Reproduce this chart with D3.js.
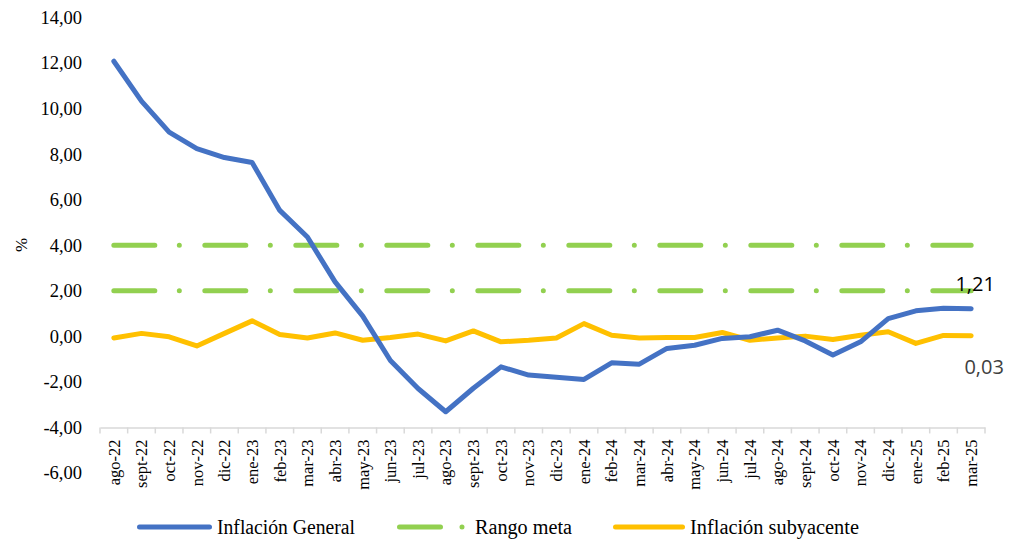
<!DOCTYPE html>
<html><head><meta charset="utf-8">
<script src="https://cdn.jsdelivr.net/npm/d3@7"></script>
<style>body{margin:0;background:#fff}svg{display:block}</style>
</head><body>
<svg id="c" width="1011" height="540"></svg>
<script>
const categories = ["ago-22","sept-22","oct-22","nov-22","dic-22","ene-23","feb-23","mar-23","abr-23","may-23","jun-23","jul-23","ago-23","sept-23","oct-23","nov-23","dic-23","ene-24","feb-24","mar-24","abr-24","may-24","jun-24","jul-24","ago-24","sept-24","oct-24","nov-24","dic-24","ene-25","feb-25","mar-25"];
const inflacionGeneral = [12.08,10.33,8.97,8.24,7.85,7.63,5.53,4.36,2.39,0.89,-1.06,-2.29,-3.31,-2.28,-1.34,-1.70,-1.80,-1.89,-1.16,-1.22,-0.53,-0.39,-0.09,-0.02,0.27,-0.20,-0.82,-0.24,0.78,1.12,1.23,1.21];
const inflacionSubyacente = [-0.07,0.13,-0.02,-0.42,0.13,0.68,0.08,-0.07,0.15,-0.17,-0.05,0.10,-0.20,0.24,-0.24,-0.17,-0.07,0.56,0.05,-0.07,-0.05,-0.05,0.17,-0.17,-0.07,0.01,-0.14,0.05,0.20,-0.31,0.04,0.03];
const rangoMetaSup = categories.map(() => 4);
const rangoMetaInf = categories.map(() => 2);
const yTicks = [14,12,10,8,6,4,2,0,-2,-4,-6];
const legendItems = ["Inflación General","Rango meta","Inflación subyacente"];

const svg = d3.select("#c");
const serif = "'Liberation Serif', 'Times New Roman', serif";
const x = d3.scaleBand().domain(categories).range([100, 985]).padding(0);
const cx = c => x(c) + x.bandwidth()/2;
const y = d3.scaleLinear().domain([-6, 14]).range([473, 17.5]);
const fmt = v => d3.format(".2f")(v).replace(".", ",").replace("−","-");

// y axis labels
const yAxis = d3.axisLeft(y).tickValues(yTicks).tickFormat(fmt).tickSize(0).tickPadding(0);
const gy = svg.append("g").attr("transform","translate(82,0)").call(yAxis);
gy.attr("font-family", null).attr("font-size", null);
gy.select(".domain").remove();
gy.selectAll("text").style("font-family", serif).style("font-size","18.5px").attr("fill","#000");

svg.append("text").attr("transform","translate(21,245) rotate(-90)")
  .attr("text-anchor","middle").attr("dominant-baseline","central")
  .style("font-family", serif).style("font-size","17px").text("%");

// x axis at -4
const xAxis = d3.axisBottom(x).tickSize(0).tickFormat(d => d);
const gx = svg.append("g").attr("transform",`translate(0,${y(-4)})`).call(xAxis);
gx.attr("font-family", null).attr("font-size", null);
gx.select(".domain").attr("stroke","#d9d9d9").attr("stroke-width",1.5);
gx.selectAll("text")
  .style("font-family", serif).style("font-size","16.5px").attr("fill","#000")
  .attr("transform","rotate(-90)").attr("text-anchor","end")
  .attr("x",-12).attr("y",0).attr("dy","0.35em");
const bounds = categories.map(c => x(c)).concat([x.range()[1]]);
gx.selectAll("line.bt").data(bounds).join("line").attr("class","bt")
  .attr("x1",d=>d).attr("x2",d=>d).attr("y1",0).attr("y2",6)
  .attr("stroke","#d9d9d9").attr("stroke-width",1.5);

const line = d3.line().x((d,i)=>cx(categories[i])).y(d=>y(d));
const dash = "41,24.5,0,25.5";
[rangoMetaSup, rangoMetaInf].forEach(s => {
  svg.append("path").attr("d", line(s)).attr("fill","none")
    .attr("stroke","#92D050").attr("stroke-width",5).attr("stroke-linecap","round")
    .attr("stroke-dasharray", dash);
});
svg.append("path").attr("d", line(inflacionSubyacente)).attr("fill","none")
  .attr("stroke","#FFC000").attr("stroke-width",5).attr("stroke-linejoin","round").attr("stroke-linecap","round");
svg.append("path").attr("d", line(inflacionGeneral)).attr("fill","none")
  .attr("stroke","#4472C4").attr("stroke-width",5).attr("stroke-linejoin","round").attr("stroke-linecap","round");

// data labels
const last = categories.length - 1;
svg.append("text").attr("x", cx(categories[last]) + 4).attr("y", y(inflacionGeneral[last]) - 18)
  .attr("text-anchor","middle").style("font-family","'Open Sans', sans-serif").style("font-size","20px")
  .attr("fill","#000").text(fmt(inflacionGeneral[last]));
svg.append("text").attr("x", cx(categories[last]) + 13).attr("y", y(inflacionSubyacente[last]) + 38)
  .attr("text-anchor","middle").style("font-family","'Open Sans', sans-serif").style("font-size","20px")
  .attr("fill","#404040").text(fmt(inflacionSubyacente[last]));

// legend
const ly = 527;
const lg = svg.append("g");
const ltext = (xx, w, t) => lg.append("text").attr("x",xx).attr("y",ly).attr("dy","0.33em")
  .style("font-family",serif).style("font-size","20px")
  .attr("textLength", w).attr("lengthAdjust","spacingAndGlyphs").text(t);
lg.append("line").attr("x1",139.5).attr("x2",209.5).attr("y1",ly).attr("y2",ly)
  .attr("stroke","#4472C4").attr("stroke-width",5).attr("stroke-linecap","round");
ltext(217, 138, legendItems[0]);
lg.append("line").attr("x1",399.5).attr("x2",465).attr("y1",ly).attr("y2",ly)
  .attr("stroke","#92D050").attr("stroke-width",5).attr("stroke-linecap","round").attr("stroke-dasharray","41,21.5,0,30");
ltext(475, 97, legendItems[1]);
lg.append("line").attr("x1",615.5).attr("x2",682.5).attr("y1",ly).attr("y2",ly)
  .attr("stroke","#FFC000").attr("stroke-width",5).attr("stroke-linecap","round");
ltext(690, 169, legendItems[2]);
</script>
</body></html>
